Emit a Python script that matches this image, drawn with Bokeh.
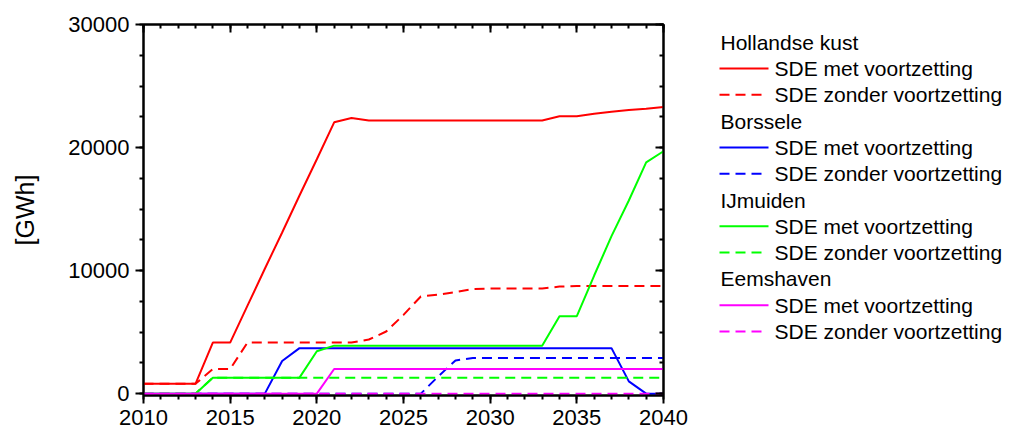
from bokeh.plotting import figure
from bokeh.models import Range1d, LinearAxis, FixedTicker
from bokeh.layouts import row
from bokeh.embed import file_html
from bokeh.resources import INLINE
from bokeh.core.properties import value

# ---------------- data ----------------
years = list(range(2010, 2041))

hk_met = [800, 800, 800, 800, 4150, 4150, 7150, 10150, 13100, 16100, 19050,
          22050, 22400, 22200, 22200, 22200, 22200, 22200, 22200, 22200, 22200,
          22200, 22200, 22200, 22550, 22550, 22750, 22900, 23050, 23150, 23300]
hk_zonder = [800, 800, 800, 800, 2000, 2000, 4150, 4150, 4150, 4150, 4150,
             4150, 4150, 4400, 5050, 6400, 7900, 8050, 8250, 8500, 8550,
             8550, 8550, 8550, 8700, 8750, 8750, 8750, 8750, 8750, 8750]
bo_met = [0, 0, 0, 0, 0, 0, 0, 0, 2650, 3700, 3700,
          3700, 3700, 3700, 3700, 3700, 3700, 3700, 3700, 3700, 3700,
          3700, 3700, 3700, 3700, 3700, 3700, 3700, 1000, 0, 0]
bo_zonder = [0, 0, 0, 0, 0, 0, 0, 0, 0, 0, 0,
             0, 0, 0, 0, 0, 0, 1400, 2700, 2900, 2900,
             2900, 2900, 2900, 2900, 2900, 2900, 2900, 2900, 2900, 2900]
ij_met = [0, 0, 0, 0, 1300, 1300, 1300, 1300, 1300, 1300, 3450,
          3900, 3900, 3900, 3900, 3900, 3900, 3900, 3900, 3900, 3900,
          3900, 3900, 3900, 6300, 6300, 9600, 12800, 15700, 18800, 19700]
ij_zonder = [0, 0, 0, 0, 1300, 1300, 1300, 1300, 1300, 1300, 1300,
             1300, 1300, 1300, 1300, 1300, 1300, 1300, 1300, 1300, 1300,
             1300, 1300, 1300, 1300, 1300, 1300, 1300, 1300, 1300, 1300]
ee_met = [0, 0, 0, 0, 0, 0, 0, 0, 0, 0, 0,
          2000, 2000, 2000, 2000, 2000, 2000, 2000, 2000, 2000, 2000,
          2000, 2000, 2000, 2000, 2000, 2000, 2000, 2000, 2000, 2000]
ee_zonder = [0] * 31

groups = ["Hollandse kust", "Borssele", "IJmuiden", "Eemshaven"]
scenarios = ["SDE met voortzetting", "SDE zonder voortzetting"]
colors = ["#ff0000", "#0000ff", "#00ff00", "#ff00ff"]
series = [(hk_met, hk_zonder), (bo_met, bo_zonder), (ij_met, ij_zonder), (ee_met, ee_zonder)]

x_major = [2010, 2015, 2020, 2025, 2030, 2035, 2040]
y_major = [0, 10000, 20000, 30000]
y_minor = [0, 2500, 5000, 7500, 10000, 12500, 15000, 17500, 20000, 22500, 25000, 27500, 30000]

FONT = "Liberation Sans"
DASH = "10 6"

# ---------------- main plot ----------------
p = figure(x_range=Range1d(2010, 2040), y_range=Range1d(-150, 30000),
           frame_width=520, frame_height=371,
           min_border_left=143, min_border_right=35, min_border_top=24, min_border_bottom=35,
           output_backend="svg", toolbar_location=None, y_axis_label="[GWh]")
p.grid.visible = False
p.outline_line_color = "black"
p.outline_line_width = 2
p.background_fill_color = "white"
p.border_fill_color = "white"

for (met, zonder), c in zip(series, colors):
    p.line(years, met, line_color=c, line_width=2)
    p.line(years, zonder, line_color=c, line_width=2, line_dash=DASH)

top = LinearAxis()
right = LinearAxis()
p.add_layout(top, "above")
p.add_layout(right, "right")

def style(ax, ticker, inward, show_labels):
    ax.ticker = ticker
    ax.axis_line_color = "black"
    ax.axis_line_width = 2
    ax.major_tick_line_color = "black"
    ax.minor_tick_line_color = "black"
    ax.major_tick_line_width = 2
    ax.minor_tick_line_width = 2
    if inward:
        ax.major_tick_in = 8
        ax.major_tick_out = 0
        ax.minor_tick_in = 4
        ax.minor_tick_out = 0
    else:
        ax.major_tick_in = 0
        ax.major_tick_out = 8
        ax.minor_tick_in = 0
        ax.minor_tick_out = 4
    ax.major_label_text_font = FONT
    if show_labels:
        ax.major_label_text_color = "black"
        ax.major_label_text_font_size = "22px"
        ax.major_label_standoff = 6
    else:
        ax.major_label_text_color = None
        ax.major_label_text_font_size = "1px"
        ax.major_label_standoff = 0

style(p.below[0], FixedTicker(ticks=x_major, minor_ticks=years), False, True)
style(p.left[0], FixedTicker(ticks=y_major, minor_ticks=y_minor), False, True)
style(top, FixedTicker(ticks=x_major, minor_ticks=years), True, False)
style(right, FixedTicker(ticks=y_major, minor_ticks=y_minor), True, False)

p.left[0].axis_label_text_font = FONT
p.left[0].axis_label_text_font_size = "25px"
p.left[0].axis_label_text_font_style = "normal"
p.left[0].axis_label_text_color = "black"
p.left[0].axis_label_standoff = 26

# ---------------- legend panel (coordinates = page pixels) ----------------
lg = figure(frame_width=310, frame_height=371,
            x_range=Range1d(698, 1008), y_range=Range1d(395, 24),
            min_border_left=0, min_border_right=0, min_border_top=24, min_border_bottom=35,
            output_backend="svg", toolbar_location=None)
lg.axis.visible = False
lg.grid.visible = False
lg.outline_line_color = None

ROW0, DY = 41.7, 26.3
for gi, (g, c) in enumerate(zip(groups, colors)):
    base = gi * 3
    lg.text([720], [ROW0 + base * DY], text=[g], text_font=value(FONT), text_font_size="21px",
            text_baseline="middle", text_color="black")
    for si, s in enumerate(scenarios):
        yy = ROW0 + (base + 1 + si) * DY
        if si == 0:
            lg.line([719, 768], [yy, yy], line_color=c, line_width=2)
        else:
            lg.line([719, 761], [yy, yy], line_color=c, line_width=2, line_dash=DASH)
        lg.text([774], [yy], text=[s], text_font=value(FONT), text_font_size="21px",
                text_baseline="middle", text_color="black")

layout = row(p, lg)
open("out.html", "w").write(file_html(layout, INLINE))
